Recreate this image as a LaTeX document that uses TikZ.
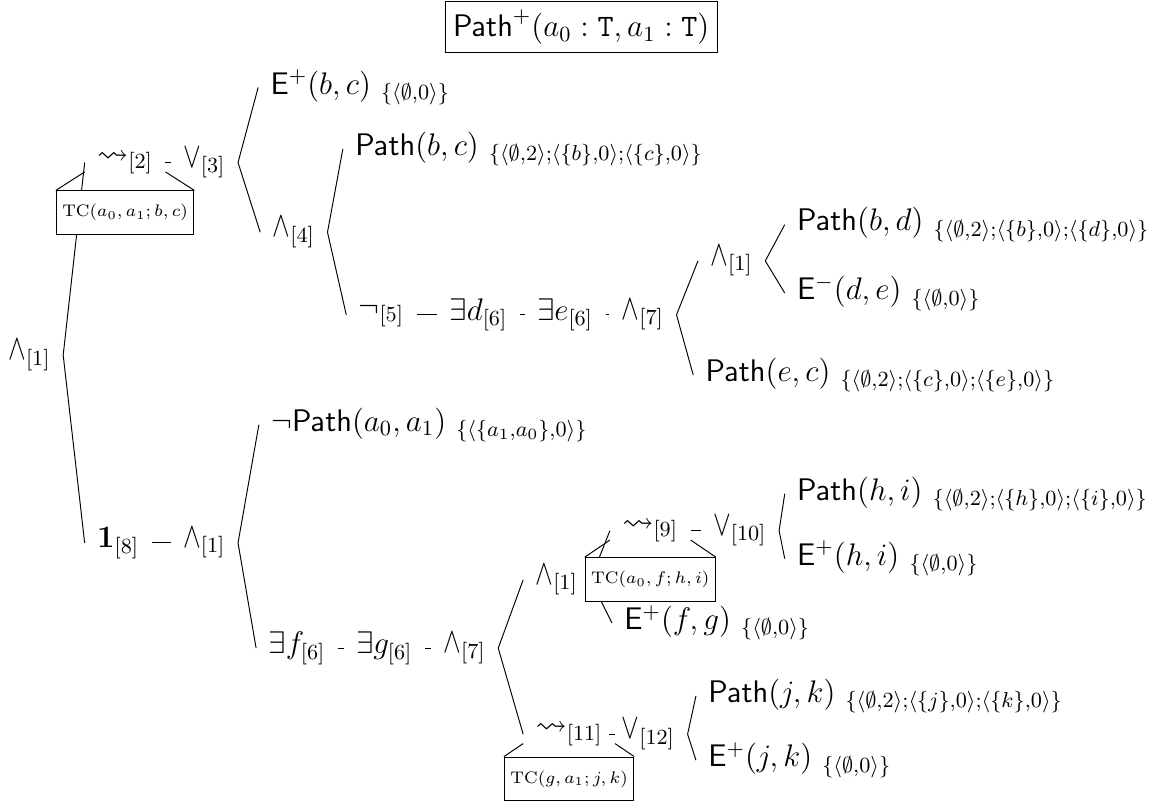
\RequirePackage{fix-cm}
\documentclass[tikz,border=0pt]{standalone}
\usepackage{amsmath,amssymb}
\usepackage{tikz}
\usetikzlibrary{positioning}

\DeclareMathSizes{13}{13}{9}{6.5}
\newcommand{\andop}{\mathord{\scalebox{0.85}[1.15]{$\wedge$}}}
\newcommand{\orop}{\mathord{\scalebox{0.85}[1.15]{$\vee$}}}

\begin{document}
\begin{tikzpicture}[font=\fontsize{13}{16}\selectfont,
  lbl/.style={anchor=west, inner xsep=5pt, inner ysep=1pt},
  tcbox/.style={draw, fill=white, font=\scriptsize, inner xsep=2.5pt, inner ysep=5.6pt}]
\useasboundingbox (0,0) rectangle (16.97,11.80);

\node[draw] (goal) at (8.51,11.40) {$\mathsf{Path}^{+}(a_0:\mathtt{T},a_1:\mathtt{T})$};

% upper branch
\node[lbl] (root) at (-0.06,6.60) {$\andop_{[1]}$};
\node[lbl] (lt2) at (1.24,9.42) {$\leadsto_{[2]}$};
\node[lbl] (or3) at (2.50,9.42) {$\orop_{[3]}$};
\node[lbl] (ebc) at (3.78,10.52) {$\mathsf{E}^{+}(b,c)\ _{\{\langle\emptyset,0\rangle\}}$};
\node[lbl] (and4) at (3.81,8.40) {$\andop_{[4]}$};
\node[lbl] (pbc) at (5.02,9.62) {$\mathsf{Path}(b,c)\ _{\{\langle\emptyset,2\rangle;\langle\{b\},0\rangle;\langle\{c\},0\rangle\}}$};
\node[lbl] (neg5) at (5.07,7.19) {$\neg_{[5]}$};
\node[lbl] (exd) at (6.40,7.19) {$\exists d_{[6]}$};
\node[lbl] (exe) at (7.68,7.19) {$\exists e_{[6]}$};
\node[lbl] (and7) at (8.92,7.19) {$\andop_{[7]}$};
\node[lbl] (and1a) at (10.22,7.98) {$\andop_{[1]}$};
\node[lbl] (pbd) at (11.49,8.51) {$\mathsf{Path}(b,d)\ _{\{\langle\emptyset,2\rangle;\langle\{b\},0\rangle;\langle\{d\},0\rangle\}}$};
\node[lbl] (ede) at (11.49,7.51) {$\mathsf{E}^{-}(d,e)\ _{\{\langle\emptyset,0\rangle\}}$};
\node[lbl] (pec) at (10.15,6.31) {$\mathsf{Path}(e,c)\ _{\{\langle\emptyset,2\rangle;\langle\{c\},0\rangle;\langle\{e\},0\rangle\}}$};

% lower branch
\node[lbl] (one8) at (1.24,3.85) {$\mathbf{1}_{[8]}$};
\node[lbl] (and1b) at (2.50,3.85) {$\andop_{[1]}$};
\node[lbl] (npath) at (3.79,5.58) {$\neg\mathsf{Path}(a_0,a_1)\ _{\{\langle\{a_1,a_0\},0\rangle\}}$};
\node[lbl] (exf) at (3.75,2.31) {$\exists f_{[6]}$};
\node[lbl] (exg) at (5.03,2.31) {$\exists g_{[6]}$};
\node[lbl] (and7b) at (6.31,2.31) {$\andop_{[7]}$};
\node[lbl] (and1c) at (7.66,3.31) {$\andop_{[1]}$};
\node[lbl] (lt9) at (8.93,4.03) {$\leadsto_{[9]}$};
\node[lbl] (or10) at (10.26,4.03) {$\orop_{[10]}$};
\node[lbl] (phi) at (11.49,4.57) {$\mathsf{Path}(h,i)\ _{\{\langle\emptyset,2\rangle;\langle\{h\},0\rangle;\langle\{i\},0\rangle\}}$};
\node[lbl] (ehi) at (11.49,3.62) {$\mathsf{E}^{+}(h,i)\ _{\{\langle\emptyset,0\rangle\}}$};
\node[lbl] (efg) at (8.96,2.68) {$\mathsf{E}^{+}(f,g)\ _{\{\langle\emptyset,0\rangle\}}$};
\node[lbl] (lt11) at (7.66,1.05) {$\leadsto_{[11]}$};
\node[lbl] (or12) at (8.92,1.05) {$\orop_{[12]}$};
\node[lbl] (pjk) at (10.19,1.61) {$\mathsf{Path}(j,k)\ _{\{\langle\emptyset,2\rangle;\langle\{j\},0\rangle;\langle\{k\},0\rangle\}}$};
\node[lbl] (ejk) at (10.19,0.67) {$\mathsf{E}^{+}(j,k)\ _{\{\langle\emptyset,0\rangle\}}$};

% brackets
\draw (root.east) -- (lt2.west) (root.east) -- (one8.west);
\draw (or3.east) -- (ebc.west) (or3.east) -- (and4.west);
\draw (and4.east) -- (pbc.west) (and4.east) -- (neg5.west);
\draw (and7.east) -- (and1a.west) (and7.east) -- (pec.west);
\draw (and1a.east) -- (pbd.west) (and1a.east) -- (ede.west);
\draw (and1b.east) -- (npath.west) (and1b.east) -- (exf.west);
\draw (and7b.east) -- (and1c.west) (and7b.east) -- (lt11.west);
\draw (and1c.east) -- (lt9.west) (and1c.east) -- (efg.west);
\draw (or10.east) -- (phi.west) (or10.east) -- (ehi.west);
\draw (or12.east) -- (pjk.west) (or12.east) -- (ejk.west);

% chains
\draw (lt2) -- (or3);
\draw (neg5) -- (exd) -- (exe) -- (and7);
\draw (one8) -- (and1b);
\draw (exf) -- (exg) -- (and7b);
\draw (lt9) -- (or10);
\draw (lt11) -- (or12);

% transitive closure boxes
\node[tcbox, below=0.2cm of lt2] (tc1) {$\mathrm{TC}(a_0,a_1;b,c)$};
\draw ([yshift=2pt]lt2.south west) -- (tc1.north west) ([yshift=2pt]lt2.south east) -- (tc1.north east);
\node[tcbox, below=0.18cm of lt9] (tc2) {$\mathrm{TC}(a_0,f;h,i)$};
\draw ([yshift=2pt]lt9.south west) -- (tc2.north west) ([yshift=2pt]lt9.south east) -- (tc2.north east);
\node[tcbox, below=0.12cm of lt11] (tc3) {$\mathrm{TC}(g,a_1;j,k)$};
\draw ([yshift=2pt]lt11.south west) -- (tc3.north west) ([yshift=2pt]lt11.south east) -- (tc3.north east);
\end{tikzpicture}
\end{document}
